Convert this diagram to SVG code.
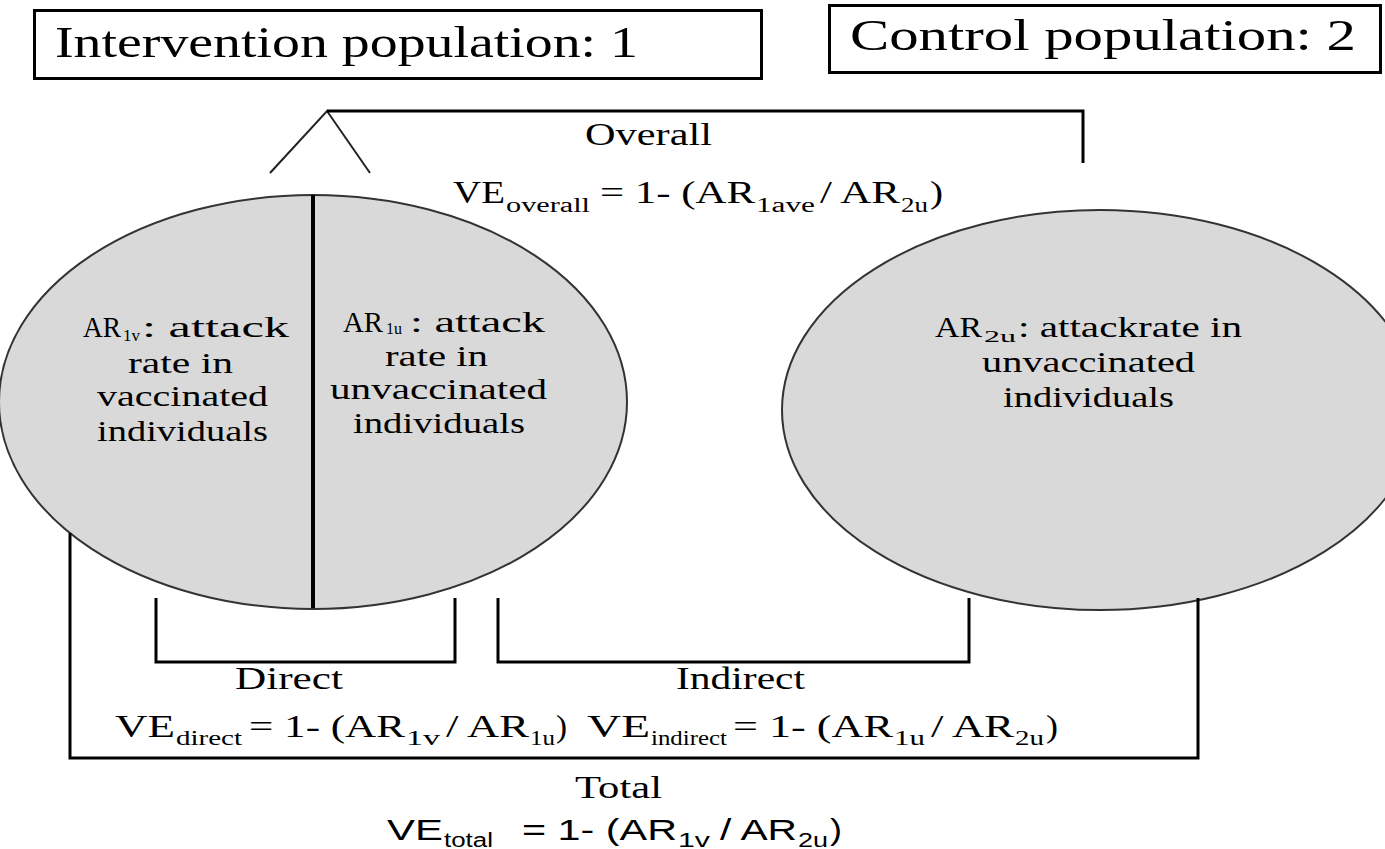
<svg xmlns="http://www.w3.org/2000/svg" width="1385" height="849" viewBox="0 0 1385 849">
<style>
.box{fill:#fff;stroke:#000;stroke-width:3}
.ell{fill:#d9d9d9;stroke:#333;stroke-width:2}
.br{fill:none;stroke:#000;stroke-width:3;stroke-linejoin:miter}
.thin{fill:none;stroke:#222;stroke-width:2}
.t{font-family:"Liberation Serif","Times New Roman",serif;fill:#000}
.s{font-family:"Liberation Sans",Arial,sans-serif;fill:#000}
.title{font-size:44px}
.lab{font-size:30px}
.f{font-size:32px}
.sub{font-size:20px}
.lsub{font-size:17px}
</style>
<rect width="1385" height="849" fill="#fff"/>

<g id="box-intervention">
<rect class="box" x="34.5" y="10.5" width="727" height="68"/>
<text class="t title" x="55" y="57" textLength="583" lengthAdjust="spacingAndGlyphs">Intervention  population:  1</text>
</g>
<g id="box-control">
<rect class="box" x="829.5" y="5.5" width="551" height="67"/>
<text class="t title" x="850" y="50" textLength="506" lengthAdjust="spacingAndGlyphs">Control  population:  2</text>
</g>

<g id="population-1">
<ellipse class="ell" cx="313" cy="402" rx="314" ry="207"/>
<line x1="313" y1="195" x2="313" y2="608" stroke="#000" stroke-width="4"/>
<g id="pop1-vaccinated">
<text class="t lab" x="83" y="337" textLength="38" lengthAdjust="spacingAndGlyphs">AR</text>
<text class="t lsub" x="123" y="341" textLength="17" lengthAdjust="spacingAndGlyphs">1v</text>
<text class="t lab" x="142" y="337" textLength="147" lengthAdjust="spacingAndGlyphs">: attack</text>
<text class="t lab" x="128" y="373" textLength="105" lengthAdjust="spacingAndGlyphs">rate in</text>
<text class="t lab" x="97" y="406" textLength="171" lengthAdjust="spacingAndGlyphs">vaccinated</text>
<text class="t lab" x="97" y="441" textLength="171" lengthAdjust="spacingAndGlyphs">individuals</text>
</g>
<g id="pop1-unvaccinated">
<text class="t lab" x="343" y="332" textLength="40" lengthAdjust="spacingAndGlyphs">AR</text>
<text class="t lsub" x="386" y="334" textLength="16" lengthAdjust="spacingAndGlyphs">1u</text>
<text class="t lab" x="410" y="332" textLength="135" lengthAdjust="spacingAndGlyphs">:  attack</text>
<text class="t lab" x="385" y="366" textLength="103" lengthAdjust="spacingAndGlyphs">rate in</text>
<text class="t lab" x="330" y="399" textLength="217" lengthAdjust="spacingAndGlyphs">unvaccinated</text>
<text class="t lab" x="353" y="433" textLength="172" lengthAdjust="spacingAndGlyphs">individuals</text>
</g>
</g>

<g id="population-2">
<ellipse class="ell" cx="1100" cy="410" rx="318" ry="200"/>
<text class="t lab" x="935" y="337" textLength="47" lengthAdjust="spacingAndGlyphs">AR</text>
<text class="t lsub" x="984" y="342" textLength="32" lengthAdjust="spacingAndGlyphs">2u</text>
<text class="t lab" x="1018" y="337" textLength="224" lengthAdjust="spacingAndGlyphs">: attackrate in</text>
<text class="t lab" x="982" y="372" textLength="213" lengthAdjust="spacingAndGlyphs">unvaccinated</text>
<text class="t lab" x="1003" y="407" textLength="171" lengthAdjust="spacingAndGlyphs">individuals</text>
</g>

<g id="connectors">
<polyline class="thin" points="270,173 327,111 370,173"/>
<polyline class="br" points="327,111 1083,111 1083,163"/>
<polyline class="br" points="156,598 156,662 455,662 455,598"/>
<polyline class="br" points="498,598 498,662 969,662 969,598"/>
<polyline class="br" points="70,533 70,758 1198,758 1198,598"/>
</g>

<g id="label-overall">
<text class="t f" x="585" y="145" textLength="127" lengthAdjust="spacingAndGlyphs">Overall</text>
<text class="t f" x="453" y="203" textLength="52" lengthAdjust="spacingAndGlyphs">VE</text>
<text class="t sub" x="506" y="212" textLength="84" lengthAdjust="spacingAndGlyphs">overall</text>
<text class="t f" x="600" y="203" textLength="155" lengthAdjust="spacingAndGlyphs">= 1- (AR</text>
<text class="t sub" x="756" y="212" textLength="59" lengthAdjust="spacingAndGlyphs">1ave</text>
<text class="t f" x="820" y="203" textLength="80" lengthAdjust="spacingAndGlyphs">/ AR</text>
<text class="t sub" x="901" y="212" textLength="27" lengthAdjust="spacingAndGlyphs">2u</text>
<text class="t f" x="930" y="203" textLength="13" lengthAdjust="spacingAndGlyphs">)</text>
</g>

<g id="label-direct">
<text class="t f" x="235" y="689" textLength="108" lengthAdjust="spacingAndGlyphs">Direct</text>
<text class="t f" x="115" y="737" textLength="60" lengthAdjust="spacingAndGlyphs">VE</text>
<text class="t sub" x="176" y="745" textLength="66" lengthAdjust="spacingAndGlyphs">direct</text>
<text class="t f" x="249" y="737" textLength="156" lengthAdjust="spacingAndGlyphs">= 1- (AR</text>
<text class="t sub" x="406" y="745" textLength="34" lengthAdjust="spacingAndGlyphs">1v</text>
<text class="t f" x="446" y="737" textLength="83" lengthAdjust="spacingAndGlyphs">/ AR</text>
<text class="t sub" x="530" y="745" textLength="25" lengthAdjust="spacingAndGlyphs">1u</text>
<text class="t f" x="556" y="737" textLength="11" lengthAdjust="spacingAndGlyphs">)</text>
</g>

<g id="label-indirect">
<text class="t f" x="676" y="689" textLength="129" lengthAdjust="spacingAndGlyphs">Indirect</text>
<text class="t f" x="587" y="737" textLength="63" lengthAdjust="spacingAndGlyphs">VE</text>
<text class="t sub" x="651" y="745" textLength="76" lengthAdjust="spacingAndGlyphs">indirect</text>
<text class="t f" x="733" y="737" textLength="160" lengthAdjust="spacingAndGlyphs">= 1- (AR</text>
<text class="t sub" x="894" y="745" textLength="31" lengthAdjust="spacingAndGlyphs">1u</text>
<text class="t f" x="931" y="737" textLength="83" lengthAdjust="spacingAndGlyphs">/ AR</text>
<text class="t sub" x="1015" y="745" textLength="29" lengthAdjust="spacingAndGlyphs">2u</text>
<text class="t f" x="1046" y="737" textLength="12" lengthAdjust="spacingAndGlyphs">)</text>
</g>

<g id="label-total">
<text class="t f" x="575" y="798" textLength="87" lengthAdjust="spacingAndGlyphs">Total</text>
<text class="s" font-size="30" x="387" y="840" textLength="56" lengthAdjust="spacingAndGlyphs">VE</text>
<text class="s" font-size="20" x="444" y="847" textLength="49" lengthAdjust="spacingAndGlyphs">total</text>
<text class="s" font-size="30" x="522" y="840" textLength="155" lengthAdjust="spacingAndGlyphs">=  1- (AR</text>
<text class="s" font-size="20" x="678" y="847" textLength="32" lengthAdjust="spacingAndGlyphs">1v</text>
<text class="s" font-size="30" x="720" y="840" textLength="77" lengthAdjust="spacingAndGlyphs">/ AR</text>
<text class="s" font-size="20" x="798" y="847" textLength="30" lengthAdjust="spacingAndGlyphs">2u</text>
<text class="s" font-size="30" x="830" y="840" textLength="12" lengthAdjust="spacingAndGlyphs">)</text>
</g>
</svg>
